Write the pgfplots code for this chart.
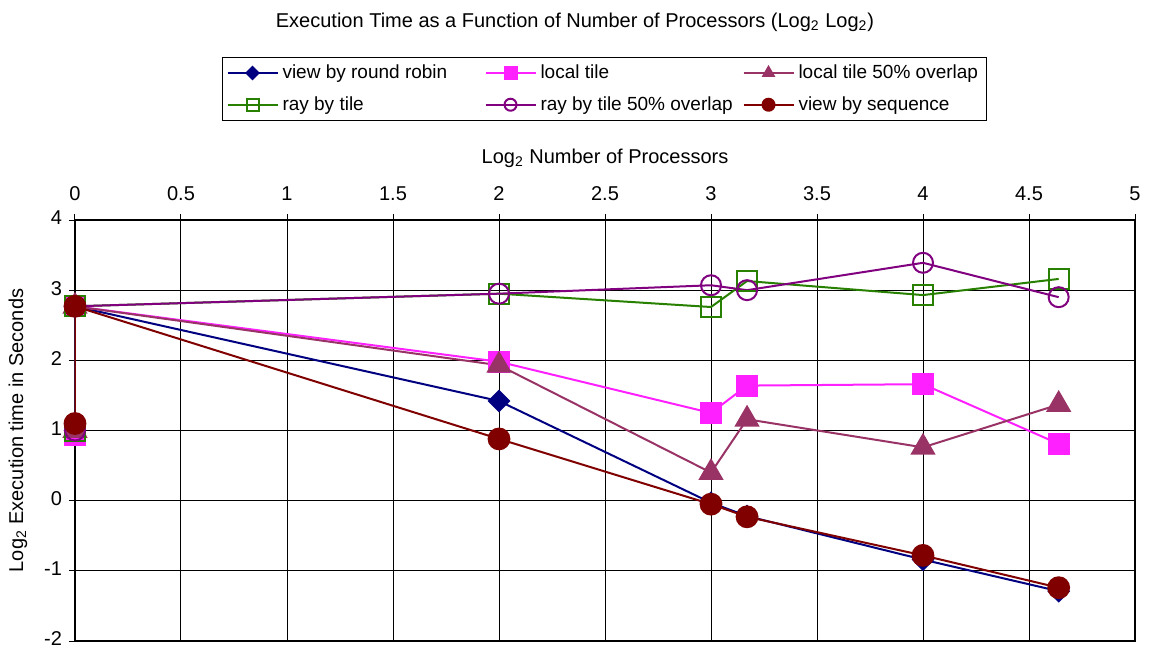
\documentclass[border=0pt]{standalone}
\usepackage{fontspec}
\setmainfont{Liberation Sans}
\usepackage{pgfplots}
\pgfplotsset{compat=1.18}
\definecolor{cRR}{RGB}{0,0,128}
\definecolor{cLT}{RGB}{255,32,255}
\definecolor{cLTO}{RGB}{153,51,102}
\definecolor{cRT}{RGB}{40,128,0}
\definecolor{cRTO}{RGB}{128,0,128}
\definecolor{cVS}{RGB}{128,0,0}
\begin{document}
\begin{tikzpicture}
\path[use as bounding box] (-37.5pt,-4pt) rectangle (537.5pt,320.5pt);
\begin{axis}[
  at={(0pt,0pt)}, anchor=south west,
  scale only axis, width=530pt, height=210.5pt,
  xmin=0, xmax=5, ymin=-2, ymax=4,
  xtick={0,0.5,1,1.5,2,2.5,3,3.5,4,4.5,5},
  ytick={-2,-1,0,1,2,3,4},
  xticklabel pos=upper, xtick pos=upper, ytick pos=left,
  /pgf/number format/assume math mode=true,
  grid=major, major grid style={black, line width=0.5pt},
  axis line style={line width=1pt},
  tick align=outside, major tick length=3pt, tick style={black, line width=0.5pt},
  tick label style={font=\fontsize{10}{12}\selectfont},
  xticklabel style={yshift=3pt},
  yticklabel style={yshift=1pt},
  label style={font=\fontsize{10}{12}\selectfont},
  xlabel={Log\textsubscript{2} Number of Processors},
  xlabel style={at={(axis description cs:0.5,1)}, anchor=base, yshift=28.5pt},
  ylabel={Log\textsubscript{2} Execution time in Seconds},
  ylabel style={at={(axis description cs:-0.0538,0.5)}, anchor=center},
  legend columns=3,
  legend style={at={(axis description cs:0.1387,1.387)}, anchor=north west,
    draw=black, line width=0.5pt, font=\fontsize{9.5}{11}\selectfont,
    cells={anchor=west}, row sep=3.5pt, inner xsep=2pt, inner ysep=1.5pt},
  legend image code/.code={\draw[mark repeat=2,mark phase=2,#1,mark size=3pt] plot coordinates {(0pt,0pt) (12.5pt,0pt) (25pt,0pt)};},
  every axis plot/.append style={line width=1pt},
]
\addplot[color=cRR, mark=diamond*, mark size=5pt, mark options={xscale=1.33, fill=cRR}]
  coordinates {(0,1.0) (0,2.77) (2,1.42) (3,-0.03) (3.17,-0.22) (4,-0.84) (4.64,-1.29)};
\addlegendentry{\makebox[99pt][l]{view by round robin}}
\addplot[color=cLT, mark=square*, mark size=5pt, mark options={fill=cLT}]
  coordinates {(0,0.93) (0,2.77) (2,1.98) (3,1.25) (3.17,1.64) (4,1.66) (4.64,0.81)};
\addlegendentry{\makebox[99pt][l]{local tile}}
\addplot[color=cLTO, mark=triangle*, mark size=6.3pt, mark options={fill=cLTO}]
  coordinates {(0,1.0) (0,2.77) (2,1.93) (3,0.40) (3.17,1.16) (4,0.76) (4.64,1.37)};
\addlegendentry{local tile 50\% overlap}
\addplot[color=cRT, mark=square, mark size=5pt, mark options={fill=white}]
  coordinates {(0,1.0) (0,2.77) (2,2.95) (3,2.76) (3.17,3.13) (4,2.93) (4.64,3.16)};
\addlegendentry{\makebox[99pt][l]{ray by tile}}
\addplot[color=cRTO, mark=o, mark size=5pt]
  coordinates {(0,1.0) (0,2.77) (2,2.95) (3,3.07) (3.17,3.0) (4,3.39) (4.64,2.9)};
\addlegendentry{\makebox[99pt][l]{ray by tile 50\% overlap}}
\addplot[color=cVS, mark=*, mark size=5.2pt, mark options={fill=cVS}]
  coordinates {(0,1.1) (0,2.77) (2,0.88) (3,-0.05) (3.17,-0.23) (4,-0.78) (4.64,-1.24)};
\addlegendentry{view by sequence}
\end{axis}
\node[font=\fontsize{10}{12}\selectfont, anchor=base] at (250pt,306.5pt) {Execution Time as a Function of Number of Processors (Log\textsubscript{2} Log\textsubscript{2})};
\end{tikzpicture}
\end{document}
